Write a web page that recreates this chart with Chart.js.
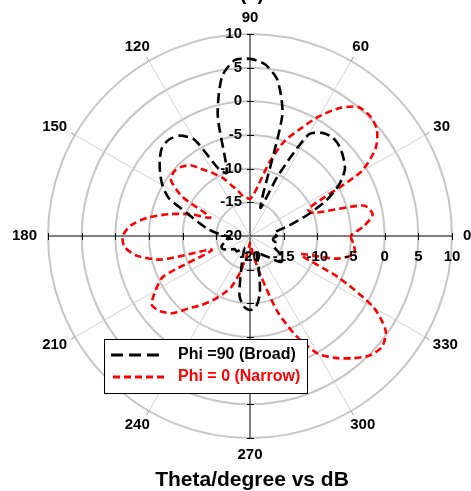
<!DOCTYPE html>
<html>
<head>
<meta charset="utf-8">
<script src="https://cdn.jsdelivr.net/npm/chart.js@4.4.0/dist/chart.umd.min.js"></script>
<style>
  html, body { margin: 0; padding: 0; background: #ffffff; }
  #wrap { position: relative; width: 471px; height: 491px; }
</style>
</head>
<body>
<div id="wrap"><canvas id="polar" width="471" height="491"></canvas></div>
<script>
// Theta (degrees), counter-clockwise from the 0° direction on the right
const thetaDeg = [
  0, 5, 10, 15, 20, 25, 30, 35, 40, 45, 50, 55,
  60, 65, 70, 75, 80, 85, 90, 95, 100, 105, 110, 115,
  120, 125, 130, 135, 140, 145, 150, 155, 160, 165, 170, 175,
  180, 185, 190, 195, 200, 205, 210, 215, 220, 225, 230, 235,
  240, 245, 250, 255, 260, 265, 270, 275, 280, 285, 290, 295,
  300, 305, 310, 315, 320, 325, 330, 335, 340, 345, 350, 355
];

// Gain in dB for Phi = 90 (broad)
const phi90Broad = [
  -16, -16.5, -16, -14, -11, -7.5, -4.7, -2.8, -1.9, -1.2, -0.9, -1.3,
  -2.6, -10, -15.5, -1.5, 3.5, 5.6, 6.3, 6.2, 4, -1.5, -10, -9,
  -3.5, -1.8, -1.3, -1.5, -2.5, -3.7, -5, -6.7, -10, -12, -13.5, -15,
  -16.5, -17, -16.5, -16, -15.5, -15.5, -16, -16.5, -17, -17, -17, -17.5,
  -18, -18, -17, -15, -11, -9.5, -9, -9.5, -11.5, -15, -17, -17.5,
  -17, -16.5, -16, -15, -14, -14, -15, -16, -16, -16, -16.5, -16.5
];

// Gain in dB for Phi = 0 (narrow)
const phi0Narrow = [
  -5, -3, -1.5, -2.5, -10, -10.5, -1, 2.8, 4.6, 5.2, 5, 3.2,
  0.5, -2.5, -5, -8.5, -12, -13.8, -14.5, -14.3, -14, -13, -12, -10.5,
  -9.3, -8, -6.3, -5.5, -5.2, -5.7, -8.5, -13.5, -10.5, -7.5, -4.5, -2.2,
  -1.1, -1.3, -3, -6.5, -14, -5.8, -3.8, -2.2, -2.6, -3.8, -6, -7.5,
  -9, -10.5, -12, -14.5, -17, -18.5, -19, -18.5, -17, -14, -8, -3.5,
  0.2, 2.1, 3.7, 5.1, 5.6, 4.6, 1.2, -5.6, -12, -7, -4.3, -4.5
];

// Radial tick values and labelled directions
const radialTicks = [-20, -15, -10, -5, 0, 5, 10];
const angleTicks = [0, 30, 60, 90, 120, 150, 180, 210, 240, 270, 300, 330];

const seriesNames = ['Phi =90 (Broad)', 'Phi = 0 (Narrow)'];
const titleText = 'Theta/degree vs dB';
const panelTag = '(a)';

const FONT = '"Liberation Sans", Arial, Helvetica, sans-serif';

// The radar scale walks clockwise from its start angle; feed it the
// angles in reverse so the plot reads counter-clockwise from 0° at right.
const N = thetaDeg.length;
const order = thetaDeg.map((_, i) => (N - i) % N);
const pick = arr => order.map(k => arr[k]);
const chartLabels = pick(thetaDeg);

const overlay = {
  id: 'polarDecor',
  beforeDatasetsDraw(chart) {
    const s = chart.scales.r;
    const ctx = chart.ctx;
    const xc = s.xCenter, yc = s.yCenter;
    ctx.save();
    // small ticks where the rings cross the two axes
    ctx.strokeStyle = '#000';
    ctx.lineWidth = 1;
    radialTicks.forEach(v => {
      const d = s.getDistanceFromCenterForValue(v);
      if (d <= 0) return;
      [xc + d, xc - d].forEach(x => {
        ctx.beginPath(); ctx.moveTo(Math.round(x) + 0.5, yc - 3); ctx.lineTo(Math.round(x) + 0.5, yc + 4); ctx.stroke();
      });
      [yc + d, yc - d].forEach(y => {
        ctx.beginPath(); ctx.moveTo(xc - 3, Math.round(y) + 0.5); ctx.lineTo(xc + 4, Math.round(y) + 0.5); ctx.stroke();
      });
    });
    // outward ticks at the end of each labelled spoke
    const outer = s.getDistanceFromCenterForValue(s.max);
    ctx.strokeStyle = '#9a9a9a';
    angleTicks.forEach(a => {
      if (a % 90 === 0) return;
      const idx = chartLabels.indexOf(a);
      const p1 = s.getPointPosition(idx, outer);
      const p2 = s.getPointPosition(idx, outer + 5);
      ctx.beginPath(); ctx.moveTo(p1.x, p1.y); ctx.lineTo(p2.x, p2.y); ctx.stroke();
    });
    ctx.restore();
  },
  afterDraw(chart) {
    const s = chart.scales.r;
    const ctx = chart.ctx;
    const xc = s.xCenter, yc = s.yCenter;
    ctx.save();
    ctx.fillStyle = '#000';

    // radial tick labels: along the upper vertical axis and the right horizontal axis
    ctx.font = 'bold 15px ' + FONT;
    ctx.textBaseline = 'middle';
    radialTicks.forEach(v => {
      const d = s.getDistanceFromCenterForValue(v);
      ctx.textAlign = 'right';
      ctx.fillText(String(v), xc - 8, yc - d);
      ctx.textAlign = 'center';
      ctx.fillText(String(v), xc + d, yc + 21);
    });

    // angle labels around the outside
    const outer = s.getDistanceFromCenterForValue(s.max);
    angleTicks.forEach(a => {
      const t = a * Math.PI / 180;
      const w = ctx.measureText(String(a)).width;
      const h = 11;
      const r0 = outer + 10;
      const x = xc + Math.cos(t) * (r0 + w / 2 + 1);
      const y = yc - Math.sin(t) * (r0 + h / 2 + 1);
      ctx.textAlign = 'center';
      ctx.fillText(String(a), x, y);
    });

    // panel tag and axis title
    ctx.font = 'bold 20px ' + FONT;
    ctx.textAlign = 'center';
    ctx.fillText(panelTag, 252, -6);
    ctx.font = 'bold 21px ' + FONT;
    ctx.fillText(titleText, 252, 480);

    // legend box
    const bx = 104.5, by = 339.5, bw = 203, bh = 54;
    ctx.fillStyle = '#fff';
    ctx.fillRect(bx, by, bw, bh);
    ctx.strokeStyle = '#000';
    ctx.lineWidth = 1;
    ctx.setLineDash([]);
    ctx.strokeRect(bx, by, bw, bh);

    const rows = [
      { name: seriesNames[0], color: '#000000', dash: [12, 6], x1: 111, x2: 161, y: 355 },
      { name: seriesNames[1], color: '#ff0000', dash: [7, 4], x1: 113, x2: 166, y: 377 }
    ];
    rows.forEach(r => {
      ctx.strokeStyle = r.color;
      ctx.lineWidth = 3;
      ctx.setLineDash(r.dash);
      ctx.beginPath(); ctx.moveTo(r.x1, r.y); ctx.lineTo(r.x2, r.y); ctx.stroke();
      ctx.setLineDash([]);
      ctx.fillStyle = r.color;
      ctx.font = 'bold 16px ' + FONT;
      ctx.textAlign = 'left';
      ctx.textBaseline = 'middle';
      ctx.fillText(r.name, 178, r.y);
    });
    ctx.restore();
  }
};

new Chart(document.getElementById('polar'), {
  type: 'radar',
  data: {
    labels: chartLabels,
    datasets: [
      {
        label: seriesNames[0],
        data: pick(phi90Broad),
        borderColor: '#000000',
        borderWidth: 2.6,
        borderDash: [10, 5],
        pointRadius: 0,
        fill: false,
        tension: 0.25
      },
      {
        label: seriesNames[1],
        data: pick(phi0Narrow),
        borderColor: '#ff0000',
        borderWidth: 2.6,
        borderDash: [7, 4],
        pointRadius: 0,
        fill: false,
        tension: 0.25
      }
    ]
  },
  options: {
    responsive: false,
    animation: false,
    devicePixelRatio: 1,
    layout: { padding: { left: 48, right: 19, top: 34, bottom: 53 } },
    plugins: {
      legend: { display: false },
      tooltip: { enabled: false },
      title: { display: false }
    },
    scales: {
      r: {
        min: -20,
        max: 10,
        startAngle: 90,
        ticks: { display: false, stepSize: 5 },
        pointLabels: { display: false },
        grid: { circular: true, color: '#c6c6c6', lineWidth: 2 },
        angleLines: {
          color: c => {
            const a = chartLabels[c.index];
            if (a % 90 === 0) return '#000000';
            return a % 30 === 0 ? '#d2d2d2' : 'rgba(0,0,0,0)';
          },
          lineWidth: c => (chartLabels[c.index] % 30 === 0 ? 1 : 0)
        }
      }
    }
  },
  plugins: [overlay]
});
</script>
</body>
</html>
